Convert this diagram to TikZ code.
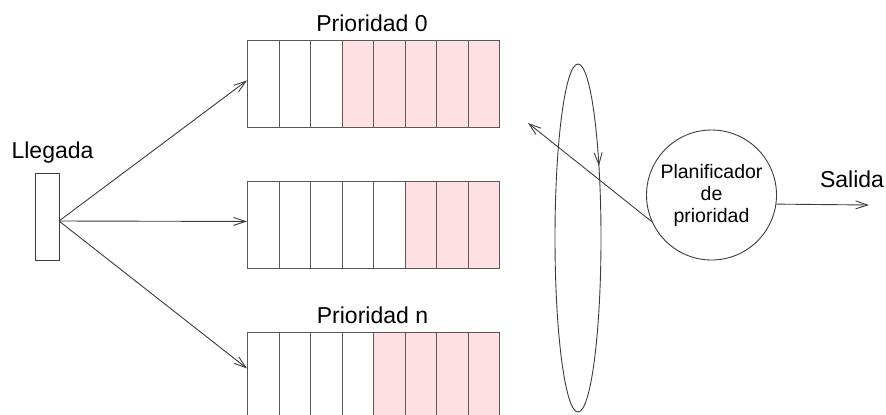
\documentclass[tikz,border=0pt]{standalone}
\usepackage{fontspec}
\setmainfont{Liberation Sans}
\usetikzlibrary{arrows.meta,positioning,decorations.markings}
\definecolor{linegray}{HTML}{3C3C3C}
\definecolor{busypink}{HTML}{FFE0E2}
\tikzset{
      tag/.style       = {font=\fontsize{23bp}{27bp}\selectfont, inner sep=0pt},
      cell/.style      = {draw=linegray!85, fill=white, minimum width=31.5bp,
                          minimum height=87bp, inner sep=0pt, anchor=north west},
      busy/.style      = {cell, fill=busypink},
      flow/.style      = {linegray, -{Straight Barb[length=12bp,width=8bp]}},
      sched/.style     = {draw=linegray, circle, minimum size=130bp, inner sep=0pt,
                          align=center, font=\fontsize{19.5bp}{22bp}\selectfont},
    }
% one queue: name, top edge, number of free cells
\newcommand{\cola}[3]{%
  \foreach \i in {1,...,8} {
    \pgfmathsetmacro\cx{247+(\i-1)*31.5}
    \ifnum\i>#3
      \node [busy] (#1-\i) at (\cx,#2) {};
    \else
      \node [cell] (#1-\i) at (\cx,#2) {};
    \fi
  }%
}

\begin{document}
\begin{tikzpicture}[x=1bp,y=-1bp,line width=0.9bp]
        \useasboundingbox (0,0) rectangle (886,414);
        % arrival buffer
        \node [draw=linegray, minimum width=24bp, minimum height=87bp, inner sep=0pt] (lleg) at (47,216.5) {};
        \node [tag, anchor=base] (llegtxt) at (52.5,158) {Llegada};
        \coordinate (src) at (59,221);
        % queues
        \cola{q0}{40}{3}
        \cola{q1}{181}{5}
        \cola{qn}{332}{4}
        \node [tag, anchor=base] (p0) at (372,31) {Prioridad 0};
        \node [tag, anchor=base] (pn) at (372.5,323) {Prioridad n};
        % round robin over the queues
        \draw [linegray, postaction={decorate}, decoration={markings,
               mark=at position 0.899 with {\arrow{Straight Barb[length=12bp,width=8bp]}}}]
              (578,238) ellipse [x radius=23, y radius=174];
        % scheduler
        \node [sched] (plan) at (711.5,195) {Planificador\\de\\prioridad};
        \coordinate (ret) at (528,123);
        \coordinate (out) at (869,205);
        \node [tag, anchor=base] (sal) at (852,187) {Salida};
        \path
        (src) edge [flow] ([yshift=3.5bp]q0-1.west)
        (src) edge [flow] ([yshift=3.5bp]q1-1.west)
        (src) edge [flow] ([yshift=7.5bp]qn-1.west)
        (plan.204.4) edge [flow] (ret)
        (plan.-8.85) edge [flow] (out);
\end{tikzpicture}
\end{document}
